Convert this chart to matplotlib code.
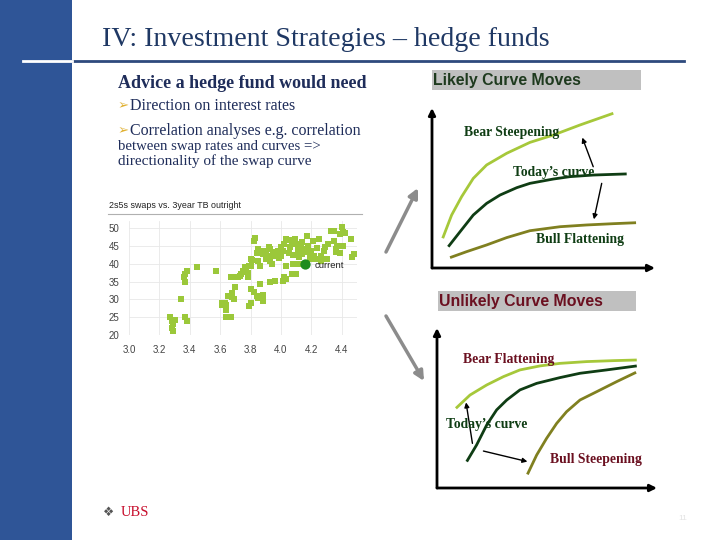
import matplotlib
matplotlib.use('Agg')
import matplotlib.pyplot as plt
from matplotlib.patches import Rectangle

# scatter: 2s5s swaps (bp) vs. 3year TB outright (%)
tb_3y = [3.27, 3.28, 3.29, 3.28, 3.29, 3.30, 3.34, 3.36, 3.37, 3.38, 3.37, 3.37, 3.38,
         3.45, 3.57,
         3.61, 3.61, 3.63, 3.64, 3.65, 3.66, 3.67, 3.69, 3.68, 3.68, 3.69, 3.64, 3.64,
         3.67, 3.70, 3.72, 3.73, 3.74, 3.75, 3.76, 3.76, 3.77, 3.78, 3.79, 3.78, 3.80,
         3.81, 3.82, 3.83, 3.80, 3.80, 3.79, 3.80, 3.82, 3.84, 3.85, 3.86, 3.87, 3.88,
         3.88,
         3.85, 3.87, 3.88, 3.89, 3.90, 3.92, 3.92, 3.93, 3.90, 3.93, 3.94, 3.95, 3.96,
         3.97, 3.98, 4.00, 4.00, 4.01, 4.02, 4.03, 4.05, 4.06, 4.07, 4.09, 4.10, 4.11,
         4.12, 4.12, 4.13, 4.14, 4.15, 4.16, 4.17, 4.18, 4.19, 4.19, 4.20, 4.21, 4.22,
         4.23, 4.25, 4.26, 4.26, 4.29, 4.30, 4.33, 4.35, 4.35, 4.36, 4.37, 4.39, 4.40,
         4.41, 4.41, 4.42, 4.39, 4.46, 4.47, 4.48, 4.36,
         3.96, 3.93, 4.01, 4.02, 4.03, 4.07, 4.09, 4.10, 4.03, 4.08, 4.10, 4.12, 3.85,
         3.86, 3.84, 3.91, 3.99, 4.05, 4.08, 4.14, 4.18, 4.24, 4.28, 4.31]
swaps_2s5s = [25.0, 24.0, 23.0, 22.0, 21.0, 24.2, 30.1, 36.3, 37.2, 38.1, 35.0, 25.0, 24.0,
              39.0, 38.1,
              28.3, 29.0, 29.1, 28.5, 31.0, 31.0, 36.2, 36.2, 30.7, 31.7, 30.1, 27.0, 25.0,
              25.0, 33.6, 36.4, 36.7, 37.1, 38.1, 38.5, 39.0, 37.6, 36.2, 39.5, 37.5, 41.4,
              41.0, 46.5, 47.2, 39.5, 32.9, 28.2, 29.1, 32.0, 31.0, 30.5, 34.3, 30.5, 29.6,
              31.2,
              44.2, 43.5, 42.8, 43.7, 43.0, 42.3, 44.8, 44.2, 41.2, 40.9, 40.0, 42.5, 43.2,
              42.3, 43.7, 44.8, 42.3, 43.7, 45.6, 47.0, 46.7, 44.6, 45.6, 47.0, 45.6, 44.2,
              43.2, 42.0, 45.1, 46.0, 44.2, 43.2, 47.7, 45.1, 42.8, 41.4, 43.7, 46.5, 42.3,
              41.4, 47.0, 42.3, 40.9, 44.6, 41.4, 49.2, 49.1, 46.5, 44.2, 45.1, 48.4, 50.3,
              48.9, 45.1, 48.6, 43.0, 47.0, 41.8, 42.8, 43.2,
              35.2, 34.8, 35.2, 36.2, 35.7, 37.1, 37.1, 37.1, 39.5, 40.0, 40.0, 40.0, 40.9,
              39.5, 43.0, 42.0, 41.5, 43.0, 42.5, 42.8, 44.0, 44.5, 43.5, 45.5]
current_tb, current_swap = 4.16, 40.0
x_ticks = [3.0, 3.2, 3.4, 3.6, 3.8, 4.0, 4.2, 4.4]
y_ticks = [20, 25, 30, 35, 40, 45, 50]

# schematic yield curves, panel units 0..10 (maturity, yield)
likely_bear_steep_x = [0.48, 0.88, 1.33, 1.85, 2.45, 3.35, 4.39, 5.44, 6.64, 8.13]
likely_bear_steep_y = [1.86, 3.31, 4.46, 5.60, 6.44, 7.17, 7.85, 8.31, 8.94, 9.67]
likely_today_x = [0.73, 1.26, 1.85, 2.45, 3.05, 3.80, 4.39, 5.44, 6.19, 7.23, 8.73]
likely_today_y = [1.33, 2.27, 3.31, 4.04, 4.56, 5.02, 5.29, 5.56, 5.71, 5.81, 5.88]
likely_bull_flat_x = [0.81, 1.55, 2.45, 3.35, 4.39, 5.74, 6.94, 8.13, 9.15]
likely_bull_flat_y = [0.65, 1.02, 1.44, 1.90, 2.33, 2.58, 2.69, 2.77, 2.83]

unlikely_bear_flat_x = [0.86, 1.50, 2.26, 3.02, 3.77, 4.68, 5.59, 6.80, 8.02, 9.08]
unlikely_bear_flat_y = [4.98, 5.81, 6.44, 6.96, 7.38, 7.63, 7.79, 7.90, 7.96, 8.00]
unlikely_today_x = [1.35, 1.80, 2.26, 2.71, 3.17, 3.77, 4.53, 5.59, 6.50, 7.71, 9.08]
unlikely_today_y = [1.65, 2.69, 3.94, 4.88, 5.50, 6.13, 6.54, 6.90, 7.17, 7.38, 7.63]
unlikely_bull_steep_x = [4.11, 4.53, 4.98, 5.44, 5.89, 6.50, 7.26, 8.17, 9.05]
unlikely_bull_steep_y = [0.85, 2.06, 3.10, 4.04, 4.77, 5.50, 6.02, 6.65, 7.23]

SERIF = 'Liberation Serif'
SANS = 'Liberation Sans'
NAVY = '#1F2D5A'
LIGHT_GREEN = '#A6C83A'
DARK_GREEN = '#0F3D14'
OLIVE = '#808020'
DARK_RED = '#6B1020'
W, H = 720, 540


def px_box(x0, y0, x1, y1):
    """Pixel box (top-left origin) -> figure fraction rect."""
    return [x0 / W, 1 - y1 / H, (x1 - x0) / W, (y1 - y0) / H]


fig = plt.figure(figsize=(7.2, 5.4), dpi=100)
fig.patch.set_facecolor('white')

# slide background layer in pixel coordinates
bg = fig.add_axes([0, 0, 1, 1])
bg.set_xlim(0, W)
bg.set_ylim(H, 0)
bg.axis('off')
bg.add_patch(Rectangle((0, 0), 72, H, color='#2F5597', lw=0))
bg.plot([72, 684], [61, 61], color='#2E4A7D', lw=2)
bg.plot([23, 72], [61, 61], color='white', lw=2)
bg.text(102, 40, 'IV: Investment Strategies \u2013 hedge funds', family=SERIF,
        fontsize=20.1, color='#1F3864', va='center')

bg.text(118, 83, 'Advice a hedge fund would need', family=SERIF, fontsize=13,
        fontweight='bold', color=NAVY, va='center')
bg.text(118, 106, '\u27a2', family='DejaVu Sans', fontsize=9.5, color='#E0B030',
        va='center')
bg.text(130.5, 106, 'Direction on interest rates', family=SERIF, fontsize=11.5,
        color=NAVY, va='center')
bg.text(118, 131, '\u27a2', family='DejaVu Sans', fontsize=9.5, color='#E0B030',
        va='center')
bg.text(130.5, 131, 'Correlation analyses e.g. correlation', family=SERIF,
        fontsize=11.5, color=NAVY, va='center')
bg.text(118, 146.5, 'between swap rates and curves =>', family=SERIF,
        fontsize=10.6, color=NAVY, va='center')
bg.text(118, 161.5, 'directionality of the swap curve', family=SERIF,
        fontsize=11, color=NAVY, va='center')

# scatter chart title
bg.text(109, 206, '2s5s swaps vs. 3year TB outright', family=SANS, fontsize=6.4,
        color='#222222', va='center')
bg.plot([108, 362], [214, 214], color='#B0B0B0', lw=0.8)

# big grey arrows
for (x0, y0), (x1, y1) in [((386, 252), (418, 188)), ((386, 316), (424, 381))]:
    bg.annotate('', xy=(x1, y1), xytext=(x0, y0),
                arrowprops=dict(arrowstyle='-|>', color='#8C8C8C', lw=2.5,
                                mutation_scale=14, shrinkA=0, shrinkB=0))

# panel title boxes
bg.add_patch(Rectangle((432, 70), 209, 20, color='#C0C0C0', lw=0))
bg.text(433, 80.5, 'Likely Curve Moves', family=SANS, fontsize=11.4,
        fontweight='bold', color='#1E3A1E', va='center')
bg.add_patch(Rectangle((438, 291), 198, 20, color='#C0C0C0', lw=0))
bg.text(439, 301.5, 'Unlikely Curve Moves', family=SANS, fontsize=11.4,
        fontweight='bold', color=DARK_RED, va='center')

# footer
bg.text(103, 512, '\u2756', family='DejaVu Sans', fontsize=9, color='#555555',
        va='center')
bg.text(121, 512, 'UBS', family=SERIF, fontsize=10.5, color='#C8102E',
        va='center')
bg.text(678, 518, '11', family=SANS, fontsize=6, color='#E4E4E4', va='center')

# scatter
ax = fig.add_axes(px_box(129, 221, 357, 335))
ax.scatter(tb_3y, swaps_2s5s, marker='s', s=14, color='#9BC83A', lw=0, zorder=3)
ax.scatter([current_tb], [current_swap], marker='o', s=55, color='#1E8C1E',
           lw=0, zorder=4)
ax.text(current_tb + 0.06, current_swap - 0.6, 'current', fontsize=6.8,
        family=SANS, color='#222222', va='center')
ax.set_xlim(3.0, 4.5)
ax.set_ylim(20, 52)
ax.set_xticks(x_ticks)
ax.set_yticks(y_ticks)
ax.set_xticklabels([f'{v:.1f}' for v in x_ticks])
ax.grid(True, color='#E8E8E8', lw=0.6)
ax.set_axisbelow(True)
for sp in ax.spines.values():
    sp.set_visible(False)
ax.tick_params(length=0, labelsize=7, labelcolor='#444444', pad=7)
for lab in ax.get_xticklabels() + ax.get_yticklabels():
    lab.set_family(SANS)
ax.patch.set_alpha(0)


def curve_panel(box, curves, labels, arrows):
    pa = fig.add_axes(px_box(*box))
    pa.set_xlim(0, 10)
    pa.set_ylim(0, 10)
    pa.axis('off')
    pa.patch.set_alpha(0)
    for (x1, y1) in [(0, 10), (10, 0)]:
        pa.annotate('', xy=(x1, y1), xytext=(0, 0),
                    arrowprops=dict(arrowstyle='-|>', color='black', lw=2,
                                    mutation_scale=10, shrinkA=0, shrinkB=0))
    for xs, ys, col in curves:
        pa.plot(xs, ys, color=col, lw=2, solid_capstyle='butt')
    for (x0, y0), (x1, y1) in arrows:
        pa.annotate('', xy=(x1, y1), xytext=(x0, y0),
                    arrowprops=dict(arrowstyle='-|>', color='black', lw=1,
                                    mutation_scale=7, shrinkA=0, shrinkB=0))
    for (x, y), txt, col in labels:
        pa.text(x, y, txt, family=SERIF, fontsize=9.8, fontweight='bold',
                color=col, ha='center', va='center')
    return pa


curve_panel((432, 108, 655, 268),
            [(likely_bear_steep_x, likely_bear_steep_y, LIGHT_GREEN),
             (likely_today_x, likely_today_y, DARK_GREEN),
             (likely_bull_flat_x, likely_bull_flat_y, OLIVE)],
            [((3.57, 8.46), 'Bear Steepening', DARK_GREEN),
             ((5.44, 5.96), 'Today\u2019s curve', DARK_GREEN),
             ((6.64, 1.81), 'Bull Flattening', DARK_GREEN)],
            [((7.23, 6.33), (6.74, 8.15)), ((7.61, 5.29), (7.26, 3.04))])

curve_panel((437, 328, 657, 488),
            [(unlikely_bear_flat_x, unlikely_bear_flat_y, LIGHT_GREEN),
             (unlikely_today_x, unlikely_today_y, DARK_GREEN),
             (unlikely_bull_steep_x, unlikely_bull_steep_y, OLIVE)],
            [((3.26, 8.0), 'Bear Flattening', DARK_RED),
             ((2.26, 3.98), 'Today\u2019s curve', DARK_GREEN),
             ((7.24, 1.75), 'Bull Steepening', DARK_RED)],
            [((1.61, 2.79), (1.32, 5.35)), ((2.11, 2.31), (4.11, 1.65))])

fig.savefig('out.png', dpi=100)
